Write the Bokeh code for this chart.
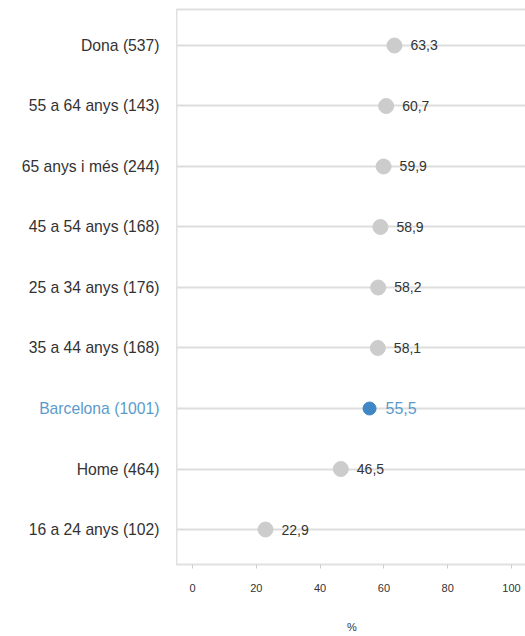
from bokeh.plotting import figure
from bokeh.layouts import row
from bokeh.models import ColumnDataSource, FixedTicker, Range1d
from bokeh.core.properties import value
from bokeh.embed import file_html
from bokeh.resources import INLINE

categories = ["Dona (537)", "55 a 64 anys (143)", "65 anys i més (244)", "45 a 54 anys (168)",
              "25 a 34 anys (176)", "35 a 44 anys (168)", "Barcelona (1001)", "Home (464)",
              "16 a 24 anys (102)"]
values = [63.3, 60.7, 59.9, 58.9, 58.2, 58.1, 55.5, 46.5, 22.9]
x_ticks = [0, 20, 40, 60, 80, 100]
highlight = "Barcelona (1001)"

FONT = "Liberation Sans"
GRAY = "#cccccc"
BLUE = "#3f88c5"
BLUE_TXT = "#5b9bcb"
TXT = "#333333"
BORDER = "#e0e0e0"

n = len(categories)
ypos = [n - 1 - i for i in range(n)]

def fmt(v):
    return f"{v:.1f}".replace(".", ",")

def pick(is_hi):
    keep = [(c, v, y) for c, v, y in zip(categories, values, ypos) if (c == highlight) == is_hi]
    return ColumnDataSource(dict(
        x=[k[1] for k in keep], y=[k[2] for k in keep],
        t=[fmt(k[1]) for k in keep], c=[k[0] for k in keep],
        lx=[1] * len(keep),
    ))

src_other = pick(False)
src_hi = pick(True)

y_range = Range1d(-0.5785, n - 1 + 0.595)
TOP, BOTTOM = 9, 72

# ---- category labels panel ----
lab = figure(width=176, height=636, output_backend="svg", toolbar_location=None,
             x_range=Range1d(0, 1), y_range=y_range,
             min_border_left=0, min_border_right=0, min_border_top=TOP, min_border_bottom=BOTTOM)
lab.axis.visible = False
lab.grid.grid_line_color = None
lab.outline_line_color = None
lab.text("lx", "y", text="c", source=src_other, x_offset=-17, text_align="right", text_baseline="middle",
         text_font=value(FONT), text_font_size="15.7px", text_color=TXT)
lab.text("lx", "y", text="c", source=src_hi, x_offset=-17, text_align="right", text_baseline="middle",
         text_font=value(FONT), text_font_size="15.7px", text_color=BLUE_TXT)

# ---- main plot ----
p = figure(width=351, height=636, output_backend="svg", toolbar_location=None,
           x_range=Range1d(-5, 105), y_range=y_range,
           min_border_left=0, min_border_right=0, min_border_top=TOP, min_border_bottom=BOTTOM)

p.outline_line_color = BORDER
p.outline_line_width = 2
p.xgrid.grid_line_color = None
p.ygrid.ticker = FixedTicker(ticks=ypos)
p.ygrid.grid_line_color = "#dddddd"
p.ygrid.grid_line_width = 2
p.yaxis.visible = False

p.xaxis.ticker = FixedTicker(ticks=x_ticks)
p.xaxis.axis_line_color = None
p.xaxis.major_tick_line_color = "#cccccc"
p.xaxis.major_tick_in = 0
p.xaxis.major_tick_out = 4
p.xaxis.minor_tick_line_color = None
p.xaxis.major_label_text_font = FONT
p.xaxis.major_label_text_font_size = "11px"
p.xaxis.major_label_text_color = TXT
p.xaxis.major_label_standoff = 15
p.xaxis.axis_label = "%"
p.xaxis.axis_label_text_font = FONT
p.xaxis.axis_label_text_font_size = "11px"
p.xaxis.axis_label_text_font_style = "normal"
p.xaxis.axis_label_text_color = TXT
p.xaxis.axis_label_standoff = 26

p.scatter("x", "y", source=src_other, size=15, fill_color=GRAY, line_color=GRAY)
p.scatter("x", "y", source=src_hi, size=13, fill_color=BLUE, line_color=BLUE)

p.text("x", "y", text="t", source=src_other, x_offset=16, text_baseline="middle",
       text_font=value(FONT), text_font_size="14px", text_color=TXT)
p.text("x", "y", text="t", source=src_hi, x_offset=16, text_baseline="middle",
       text_font=value(FONT), text_font_size="16px", text_color=BLUE_TXT)

layout = row(lab, p, spacing=0)
open("out.html", "w").write(file_html(layout, INLINE))
